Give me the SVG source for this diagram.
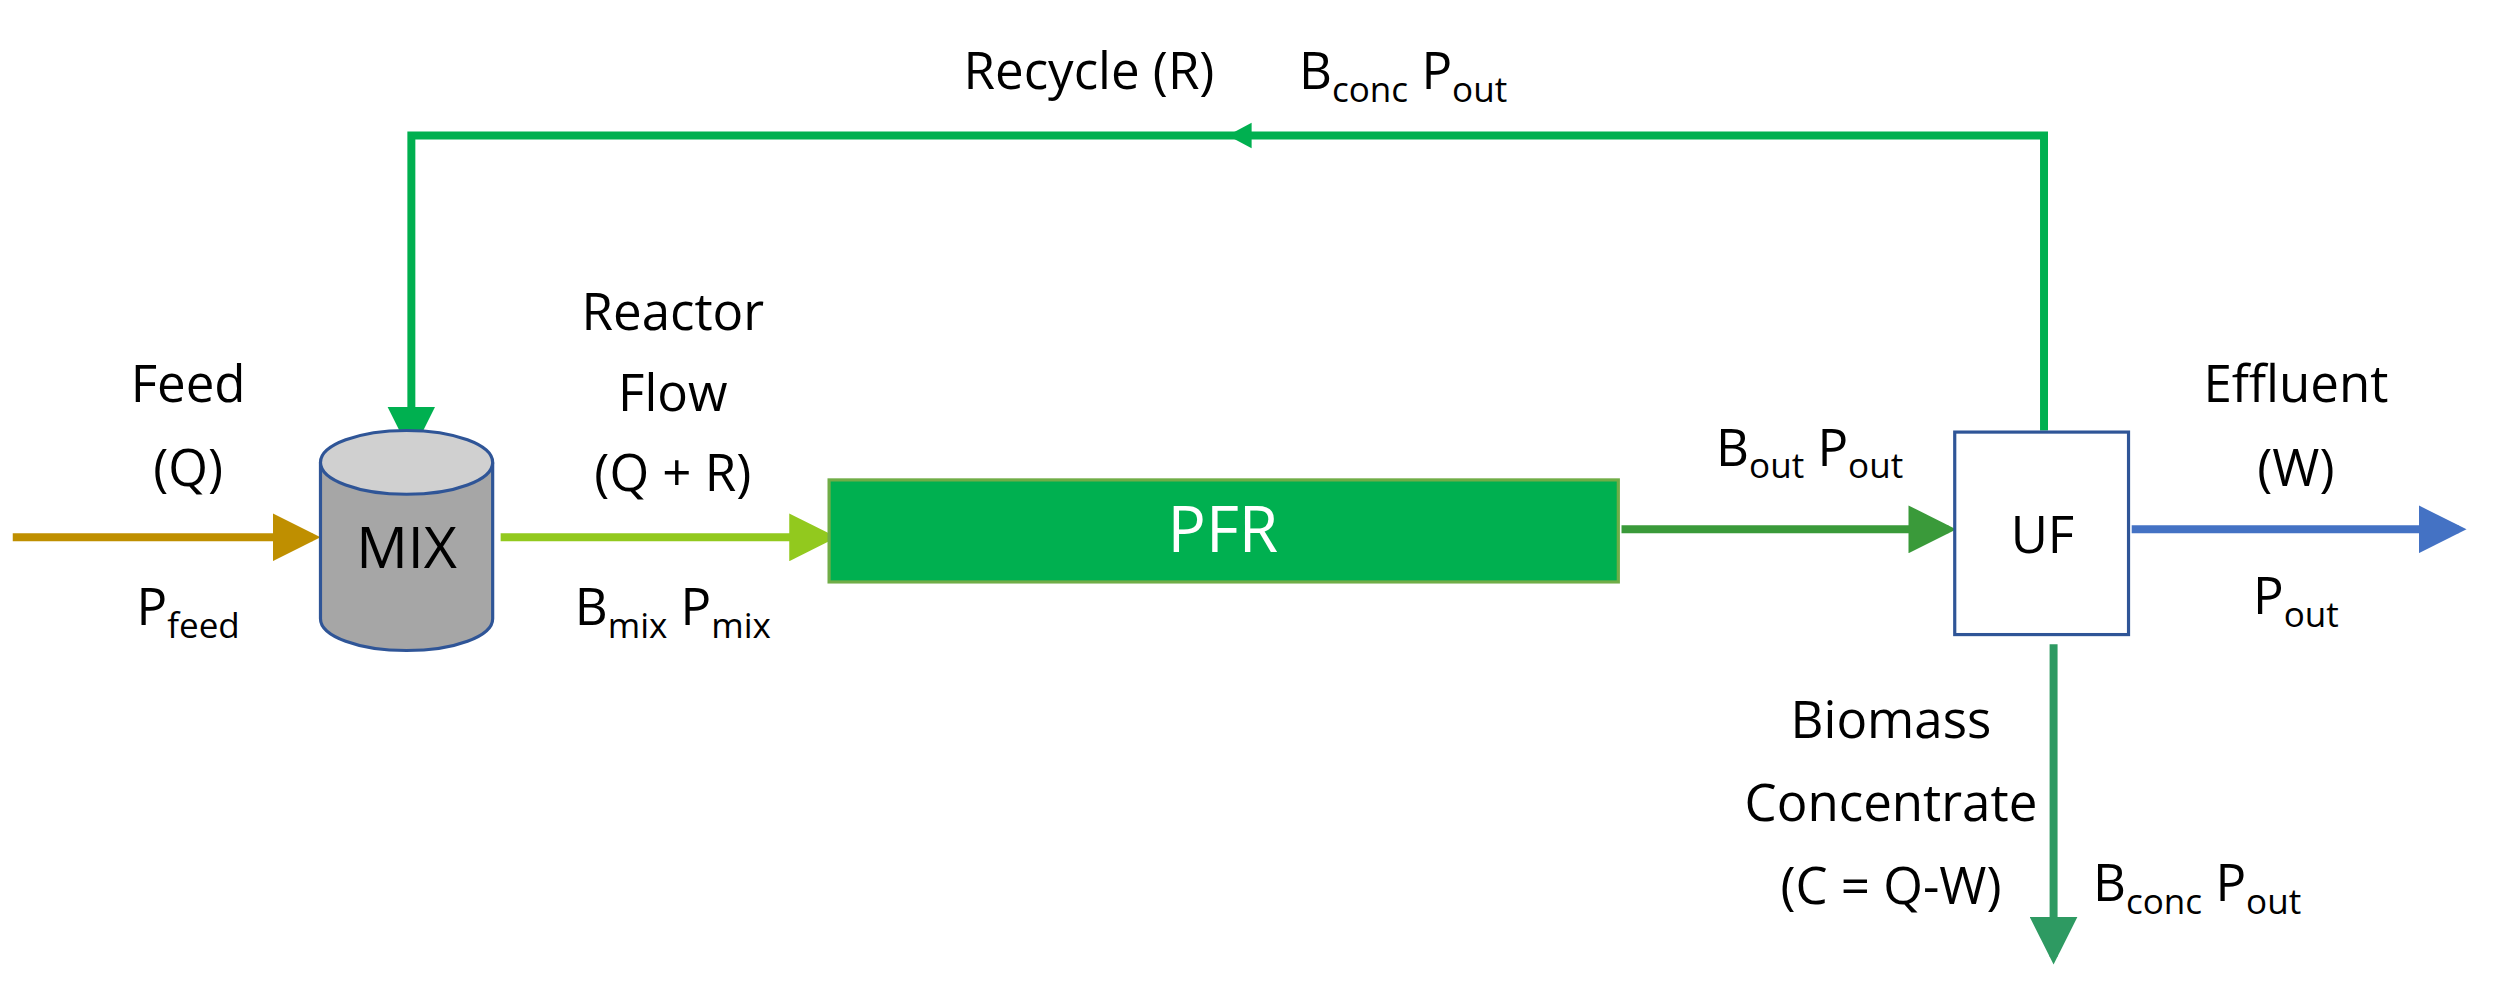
<svg xmlns="http://www.w3.org/2000/svg" width="2500" height="1000" viewBox="0 0 2500 1000">
<style>
text{font-family:"Open Sans","Liberation Sans",sans-serif;font-size:32px;fill:#000;text-anchor:middle}
.sub{font-size:22px}
.line{fill:none;stroke-width:5}
</style>
<defs>
<marker id="aG" markerWidth="6" markerHeight="6" refX="5" refY="3" orient="auto" markerUnits="strokeWidth"><path d="M0,0L6,3L0,6z" fill="#00B050"/></marker>
<marker id="aF" markerWidth="6" markerHeight="6" refX="5" refY="3" orient="auto" markerUnits="strokeWidth"><path d="M0,0L6,3L0,6z" fill="#BF8F00"/></marker>
<marker id="aL" markerWidth="6" markerHeight="6" refX="5" refY="3" orient="auto" markerUnits="strokeWidth"><path d="M0,0L6,3L0,6z" fill="#92C91E"/></marker>
<marker id="aD" markerWidth="6" markerHeight="6" refX="5" refY="3" orient="auto" markerUnits="strokeWidth"><path d="M0,0L6,3L0,6z" fill="#3A9A3A"/></marker>
<marker id="aB" markerWidth="6" markerHeight="6" refX="5" refY="3" orient="auto" markerUnits="strokeWidth"><path d="M0,0L6,3L0,6z" fill="#4472C4"/></marker>
<marker id="aC" markerWidth="6" markerHeight="6" refX="5" refY="3" orient="auto" markerUnits="strokeWidth"><path d="M0,0L6,3L0,6z" fill="#2E9A62"/></marker>
</defs>
<rect width="2500" height="1000" fill="#fff"/>
<g transform="scale(1.5944)">
<g id="connectors">
<path class="line" d="M1282,270V85H258V280" stroke="#00B050" marker-end="url(#aG)"/>
<path d="M785,77L770,85L785,93z" fill="#00B050"/>
<path class="line" d="M8,337H196" stroke="#BF8F00" marker-end="url(#aF)"/>
<path class="line" d="M314,337H520" stroke="#92C91E" marker-end="url(#aL)"/>
<path class="line" d="M1017,332H1222" stroke="#3A9A3A" marker-end="url(#aD)"/>
<path class="line" d="M1337,332H1542" stroke="#4472C4" marker-end="url(#aB)"/>
<path class="line" d="M1288,404V600" stroke="#2E9A62" marker-end="url(#aC)"/>
</g>
<g id="mix">
<path d="M201,290V388A54,20 0 0 0 309,388V290" fill="#A6A6A6" stroke="#2F5597" stroke-width="2"/>
<ellipse cx="255" cy="290" rx="54" ry="20" fill="#D0D0D0" stroke="#2F5597" stroke-width="2"/>
<text x="255" y="356" style="font-size:36px">MIX</text>
</g>
<g id="pfr">
<rect x="520" y="301" width="495" height="64" fill="#00B050" stroke="#70AD47" stroke-width="2"/>
<text x="767" y="346" style="fill:#fff;font-size:40px">PFR</text>
</g>
<g id="uf">
<rect x="1226" y="271" width="109" height="127" fill="#fff" stroke="#2F5597" stroke-width="2"/>
<text x="1281" y="347">UF</text>
</g>
<g id="labels">
<text x="118" y="252">Feed</text>
<text x="118" y="305">(Q)</text>
<text x="118" y="392">P<tspan class="sub" dy="8">feed</tspan></text>
<text x="422" y="207">Reactor</text>
<text x="422" y="258">Flow</text>
<text x="422" y="308">(Q + R)</text>
<text x="422" y="392">B<tspan class="sub" dy="8">mix</tspan><tspan dy="-8">  P</tspan><tspan class="sub" dy="8">mix</tspan></text>
<text x="683" y="56">Recycle (R)</text>
<text x="880" y="56">B<tspan class="sub" dy="8">conc</tspan><tspan dy="-8"> P</tspan><tspan class="sub" dy="8">out</tspan></text>
<text x="1135" y="292">B<tspan class="sub" dy="8">out</tspan><tspan dy="-8">  P</tspan><tspan class="sub" dy="8">out</tspan></text>
<text x="1440" y="252">Effluent</text>
<text x="1440" y="305">(W)</text>
<text x="1440" y="385">P<tspan class="sub" dy="8">out</tspan></text>
<text x="1186" y="463">Biomass</text>
<text x="1186" y="515">Concentrate</text>
<text x="1186" y="567">(C = Q-W)</text>
<text x="1378" y="565">B<tspan class="sub" dy="8">conc</tspan><tspan dy="-8"> P</tspan><tspan class="sub" dy="8">out</tspan></text>
</g>
</g>
</svg>
